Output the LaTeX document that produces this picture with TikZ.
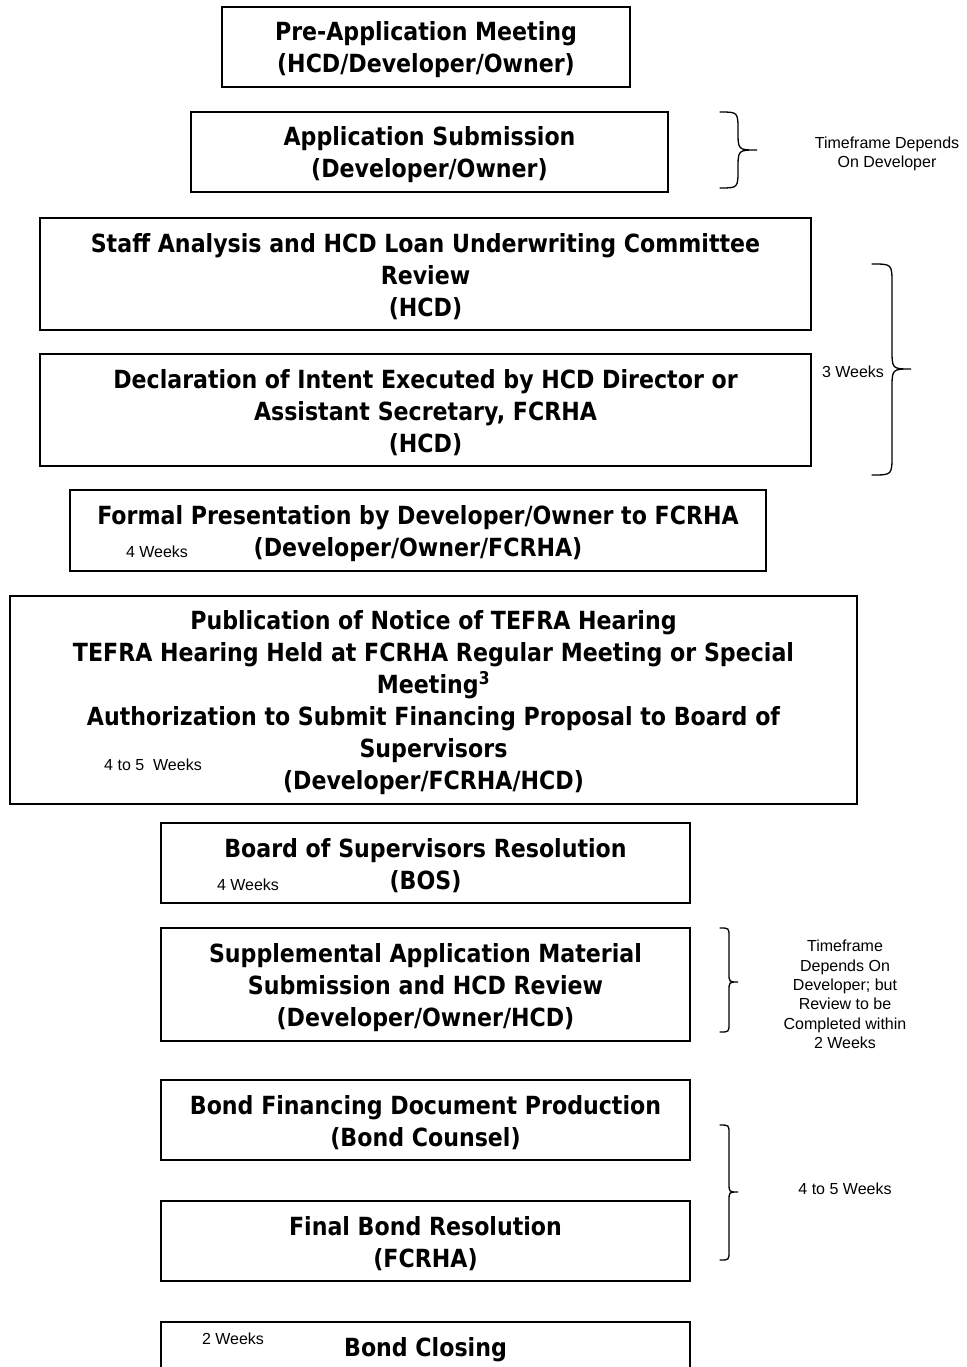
\documentclass[tikz,border=0pt]{standalone}
\usepackage{fontspec}
\newfontfamily\boxfont[FakeStretch=0.885]{DejaVu Sans}
\newfontfamily\notefont{Liberation Sans}
\newcommand\tstrut{\rule{0pt}{25pt}}
\newcommand\wordbrace[7]{%
  \draw[bracestroke] (#1,#4) .. controls (#2,#4) .. (#2,#4+#7) -- (#2,#5-#7)
    .. controls (#2,#5) .. (#3,#5) .. controls (#2,#5) .. (#2,#5+#7)
    -- (#2,#6-#7) .. controls (#2,#6) .. (#1,#6);}
\begin{document}
\begin{tikzpicture}[x=1pt,y=-1pt,
  stepbox/.style={draw, line width=1.6pt, inner sep=0pt, align=center,
    font=\boxfont\bfseries\fontsize{25}{32}\selectfont},
  note/.style={inner sep=0pt, align=center,
    font=\notefont\fontsize{16}{19.4}\selectfont},
  bracestroke/.style={line width=1.3pt, line cap=round}]
\useasboundingbox[fill=white] (0,0) rectangle (966,1367);

\node[stepbox, minimum width=408pt, minimum height=80pt] (b1) at (426,47)
  {\tstrut Pre-Application Meeting\\(HCD/Developer/Owner)};
\node[stepbox, minimum width=477pt, minimum height=80pt] (b2) at (429.5,152)
  {\tstrut Application Submission\\(Developer/Owner)};
\node[stepbox, minimum width=771pt, minimum height=112pt] (b3) at (425.5,274)
  {\tstrut Staff Analysis and HCD Loan Underwriting Committee\\Review\\(HCD)};
\node[stepbox, minimum width=771pt, minimum height=112pt] (b4) at (425.5,410)
  {\tstrut Declaration of Intent Executed by HCD Director or\\Assistant Secretary, FCRHA\\(HCD)};
\node[stepbox, minimum width=696pt, minimum height=81pt] (b5) at (418,530.5)
  {\tstrut Formal Presentation by Developer/Owner to FCRHA\\(Developer/Owner/FCRHA)};
\node[stepbox, minimum width=847pt, minimum height=208pt] (b6) at (433.5,700)
  {\tstrut Publication of Notice of TEFRA Hearing\\TEFRA Hearing Held at FCRHA Regular Meeting or Special\\Meeting\textsuperscript{3}\\Authorization to Submit Financing Proposal to Board of\\Supervisors\\(Developer/FCRHA/HCD)};
\node[stepbox, minimum width=529pt, minimum height=80pt] (b7) at (425.5,863)
  {\tstrut Board of Supervisors Resolution\\(BOS)};
\node[stepbox, minimum width=529pt, minimum height=113pt] (b8) at (425.5,984.5)
  {\tstrut Supplemental Application Material\\Submission and HCD Review\\(Developer/Owner/HCD)};
\node[stepbox, minimum width=529pt, minimum height=80pt] (b9) at (425.5,1120)
  {\tstrut Bond Financing Document Production\\(Bond Counsel)};
\node[stepbox, minimum width=529pt, minimum height=80pt] (b10) at (425.5,1241)
  {\tstrut Final Bond Resolution\\(FCRHA)};
\node[stepbox, minimum width=529pt, minimum height=50pt] (b11) at (425.5,1347)
  {\tstrut Bond Closing};

\node[note] (n5) at (157,552) {4 Weeks};
\node[note] (n6) at (153,765) {4 to 5\ \ Weeks};
\node[note] (n7) at (248,885) {4 Weeks};
\node[note] (n11) at (233,1339) {2 Weeks};

\wordbrace{720}{738}{757}{112}{150}{188}{19}
\node[note] (t1) at (887,154) {Timeframe Depends\\On Developer};
\wordbrace{872}{892}{911}{264}{369}{475}{20}
\node[note] (t2) at (853,372) {3 Weeks};
\wordbrace{720}{729}{738}{928}{982}{1032}{9}
\node[note] (t3) at (845,994.5) {Timeframe\\Depends On\\Developer; but\\Review to be\\Completed within\\2 Weeks};
\wordbrace{720}{729}{738}{1125}{1192}{1260}{9}
\node[note] (t4) at (845,1189) {4 to 5 Weeks};
\end{tikzpicture}
\end{document}
